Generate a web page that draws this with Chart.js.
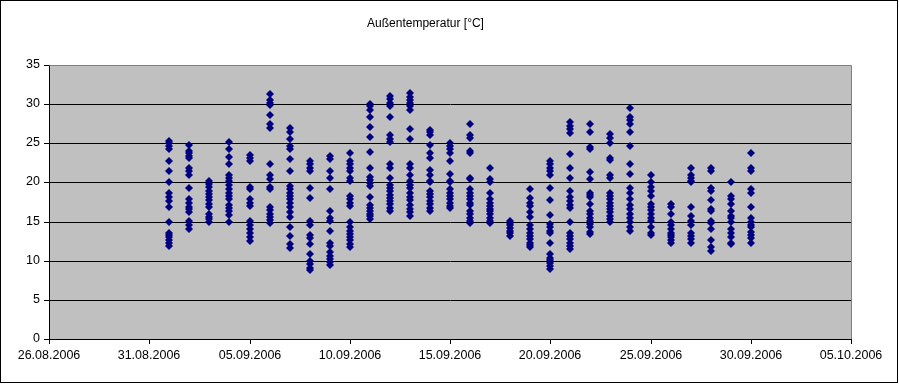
<!DOCTYPE html>
<html><head><meta charset="utf-8">
<script src="https://cdn.jsdelivr.net/npm/chart.js@4/dist/chart.umd.min.js"></script>
<style>html,body{margin:0;padding:0;background:#fff}#wrap{width:899px;height:384px;position:relative}</style>
</head><body><div id="wrap"><canvas id="c" width="899" height="384"></canvas></div>
<script>
const chartTitle = 'Außentemperatur [°C]';
const axisStart = '26.08.2006';
const xTickLabels = ['26.08.2006','31.08.2006','05.09.2006','10.09.2006','15.09.2006','20.09.2006','25.09.2006','30.09.2006','05.10.2006'];
const yTickValues = [0,5,10,15,20,25,30,35];
const dates = ['01.09.2006','02.09.2006','03.09.2006','04.09.2006','05.09.2006','06.09.2006','07.09.2006','08.09.2006','09.09.2006','10.09.2006',
  '11.09.2006','12.09.2006','13.09.2006','14.09.2006','15.09.2006','16.09.2006','17.09.2006','18.09.2006','19.09.2006','20.09.2006',
  '21.09.2006','22.09.2006','23.09.2006','24.09.2006','25.09.2006','26.09.2006','27.09.2006','28.09.2006','29.09.2006','30.09.2006'];
const temps = [
  [25.3,25.0,24.6,24.3,22.7,21.5,20.1,18.6,18.1,17.6,16.9,15.0,13.6,13.3,13.0,12.6,12.3,11.9],
  [24.8,24.0,23.8,23.4,23.1,21.8,21.4,20.9,19.3,17.9,17.4,16.9,16.6,16.2,15.1,14.6,14.0],
  [20.2,19.8,19.4,18.9,18.5,18.1,17.7,17.2,16.8,16.0,15.6,15.3,14.9],
  [25.2,24.3,23.3,22.3,21.0,20.6,20.2,19.7,19.1,18.7,18.3,17.9,17.1,16.7,16.3,15.8,15.0],
  [23.5,23.1,22.8,19.4,19.1,17.9,17.4,17.0,15.1,14.6,14.0,13.5,13.0,12.5],
  [31.3,30.5,30.2,29.9,28.6,27.5,27.0,22.3,20.9,20.4,19.4,19.1,16.9,16.5,16.0,15.6,15.2,14.8],
  [27.0,26.5,25.5,24.6,24.3,23.0,21.4,19.6,19.1,18.7,18.3,17.9,17.4,16.9,16.2,15.6,14.3,13.2,12.1,11.6],
  [22.8,22.3,21.9,21.5,19.3,18.0,15.1,14.6,13.3,12.9,12.1,10.9,10.0,9.6,9.1,8.8],
  [23.4,23.0,21.5,20.6,19.1,16.3,15.5,15.1,13.8,12.3,11.9,11.1,10.6,10.2,9.8,9.4],
  [23.7,22.7,22.3,21.9,21.4,20.6,20.2,18.3,17.9,17.4,17.0,14.9,14.3,13.8,13.4,13.0,12.6,12.1,11.7],
  [30.0,29.7,29.2,28.4,27.1,25.8,23.9,21.8,20.7,20.3,19.9,19.6,18.2,17.1,16.7,16.4,16.0,15.7,15.3],
  [31.1,30.6,30.2,29.8,28.4,26.0,25.5,25.2,22.3,21.8,20.6,19.7,19.3,18.9,18.4,18.0,17.6,17.2,16.7,16.3],
  [31.4,30.9,30.5,30.1,29.7,29.2,26.8,25.5,22.3,21.9,20.9,20.2,19.7,19.3,18.7,18.2,17.7,17.1,16.6,16.2,15.7],
  [26.7,26.4,26.1,24.8,23.8,23.1,21.6,21.0,20.2,20.0,18.9,18.5,18.1,17.6,17.2,16.7,16.3],
  [25.1,24.7,24.3,23.8,22.8,21.1,20.2,20.0,19.1,18.7,18.3,17.9,17.4,17.0,16.7],
  [27.4,26.0,25.7,24.0,23.8,20.6,20.4,19.1,18.7,18.3,17.9,17.4,17.1,16.4,16.0,15.5,15.1,14.8],
  [21.8,20.4,20.1,18.7,17.9,17.4,17.0,16.6,16.3,16.0,15.5,15.1,14.8],
  [15.1,14.8,14.5,14.2,13.8,13.5,13.2],
  [19.1,18.0,17.4,17.0,16.2,15.6,14.5,14.0,13.6,13.2,12.8,12.3,12.0,11.7],
  [22.7,22.3,21.8,21.4,21.0,19.3,17.8,15.8,14.7,14.3,13.8,13.5,12.2,10.8,10.4,10.1,9.7,9.3,8.9],
  [27.7,27.2,26.8,26.3,23.6,21.8,20.6,18.9,18.1,17.6,17.1,16.7,14.9,13.6,13.2,12.8,12.3,11.9,11.5],
  [27.4,26.4,24.5,24.3,21.3,20.4,18.7,18.4,18.1,17.2,16.4,16.0,15.5,15.1,14.7,14.3,13.7,13.4],
  [26.2,25.7,25.1,23.1,22.9,21.0,20.6,18.7,18.3,17.9,17.4,17.0,16.6,16.2,15.7,15.3,14.9],
  [29.5,28.4,28.0,27.4,26.4,24.6,22.3,21.1,19.3,18.7,17.9,17.1,16.6,16.0,15.5,14.9,14.3,13.8],
  [21.0,20.0,19.4,18.9,18.3,17.3,16.9,16.5,16.0,15.5,15.1,14.3,13.6,13.3],
  [17.3,16.9,16.0,14.9,14.5,14.0,13.6,13.3,13.0,12.6,12.2],
  [21.8,21.0,20.6,20.2,20.0,16.8,15.7,15.1,14.5,13.5,13.2,12.8,12.3],
  [21.8,21.4,19.3,18.9,17.8,16.6,16.3,15.1,14.8,14.0,12.6,11.7,11.3],
  [20.0,18.3,17.9,17.2,16.3,15.7,15.4,15.0,14.0,13.6,13.0,12.3,12.1],
  [23.7,21.8,21.4,19.1,18.7,16.9,15.4,15.0,14.6,14.3,13.7,13.3,12.9,12.3]
];

function toDay(s){
  const p = s.split('.');
  return Date.UTC(+p[2], +p[1]-1, +p[0]) / 86400000;
}
const day0 = toDay(axisStart);
const points = [];
dates.forEach((d, i) => {
  const x = toDay(d) - day0;
  temps[i].forEach(v => points.push({x: x, y: v}));
});

const FONT = "'Liberation Sans', Arial, sans-serif";
const framePlugin = {
  id: 'frame',
  beforeDraw(chart){
    const {ctx, chartArea: a} = chart;
    ctx.save();
    ctx.fillStyle = '#ffffff';
    ctx.fillRect(0, 0, chart.width, chart.height);
    ctx.fillStyle = '#c0c0c0';
    ctx.fillRect(a.left, a.top, a.right - a.left, a.bottom - a.top);
    ctx.restore();
  },
  afterDraw(chart){
    const {ctx, chartArea: a} = chart;
    ctx.save();
    ctx.strokeStyle = '#808080';
    ctx.lineWidth = 1;
    ctx.beginPath();
    ctx.moveTo(Math.round(a.left) + 0.5, Math.round(a.top) + 0.5);
    ctx.lineTo(Math.round(a.right) + 0.5, Math.round(a.top) + 0.5);
    ctx.lineTo(Math.round(a.right) + 0.5, Math.round(a.bottom));
    ctx.stroke();
    ctx.strokeStyle = '#000000';
    ctx.strokeRect(0.5, 0.5, chart.width - 2, chart.height - 2);
    ctx.restore();
  }
};

new Chart(document.getElementById('c'), {
  type: 'scatter',
  data: {
    datasets: [{
      data: points,
      pointStyle: 'rectRot',
      pointRadius: 4,
      pointBorderWidth: 0,
      backgroundColor: '#000080',
      borderColor: '#000080'
    }]
  },
  options: {
    responsive: false,
    animation: false,
    devicePixelRatio: 1,
    layout: {padding: {left: 0, right: 48, top: 0, bottom: 0}},
    plugins: {
      legend: {display: false},
      tooltip: {enabled: false},
      title: {
        display: true,
        text: chartTitle,
        color: '#000',
        font: {family: FONT, size: 12, weight: 'normal'},
        padding: {top: 16, bottom: 34.6}
      }
    },
    scales: {
      x: {
        type: 'linear',
        min: 0, max: 40,
        alignToPixels: true,
        afterFit(s){ s.height = 45; },
        afterBuildTicks(s){ s.ticks = xTickLabels.map((l, i) => ({value: i * 5})); },
        ticks: {
          callback: (v) => xTickLabels[Math.round(v / 5)],
          color: '#000', font: {family: FONT, size: 12.5},
          maxRotation: 0, autoSkip: false, padding: 4
        },
        grid: {drawOnChartArea: false, drawTicks: true, tickLength: 5, color: '#000'},
        border: {color: '#000', width: 1}
      },
      y: {
        min: 0, max: 35,
        alignToPixels: true,
        afterFit(s){ s.width = 49; },
        afterBuildTicks(s){ s.ticks = yTickValues.map(v => ({value: v})); },
        ticks: {color: '#000', font: {family: FONT, size: 12.5}, padding: 4},
        grid: {
          tickLength: 5,
          color: (c) => (c.tick && c.tick.value === 35) ? '#808080' : '#000',
          tickColor: '#000'
        },
        border: {color: '#000', width: 1}
      }
    }
  },
  plugins: [framePlugin]
});
</script>
</body></html>
